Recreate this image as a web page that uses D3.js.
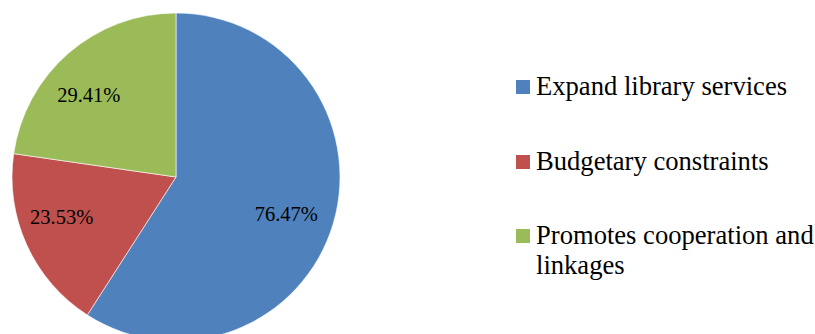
<!DOCTYPE html>
<html>
<head>
<meta charset="utf-8">
<script src="https://cdn.jsdelivr.net/npm/d3@7"></script>
<style>
  body { margin: 0; background: #fff; }
  text { font-family: "Liberation Serif", "Times New Roman", serif; fill: #000; }
</style>
</head>
<body>
<script>
// dimensions of the page
var w = 815, h = 334

// data
const categories = ["Expand library services", "Budgetary constraints", "Promotes cooperation and linkages"]
const values = [76.47, 23.53, 29.41]
const labels = ["76.47%", "23.53%", "29.41%"]
const colors = ["#4F81BD", "#C0504D", "#9BBB59"]

// pie centre and radius
var cx = 176, cy = 177, r = 164
// small shifts so the labels sit where the original put them
var nudge = [[-3, 4], [-7, -9], [-10, 7]]

var svg = d3.select("body").append("svg")
    .attr("width", w)
    .attr("height", h)

var pie = d3.pie().sort(null).value(function(d) { return d.value })
var arc = d3.arc().innerRadius(0).outerRadius(r)
var labelArc = d3.arc().innerRadius(118).outerRadius(118)

var data = categories.map(function(c, i) {
  return { name: c, value: values[i], label: labels[i], color: colors[i] }
})

var g = svg.append("g").attr("transform", "translate(" + cx + "," + cy + ")")

var slices = g.selectAll(".slice")
    .data(pie(data))
    .enter().append("g")
    .attr("class", "slice")

slices.append("path")
    .attr("d", arc)
    .style("fill", function(d) { return d.data.color })
    .style("stroke", "#fff")
    .style("stroke-width", 0.6)

slices.append("text")
    .attr("transform", function(d, i) {
      var c = labelArc.centroid(d)
      return "translate(" + (c[0] + nudge[i][0]) + "," + (c[1] + nudge[i][1]) + ")"
    })
    .attr("text-anchor", "middle")
    .attr("dy", "0.35em")
    .style("font-size", "20.5px")
    .text(function(d) { return d.data.label })

// legend
var legend = svg.append("g").attr("transform", "translate(516,0)")
var rowY = [95, 170, 244]

var items = legend.selectAll(".item")
    .data(data)
    .enter().append("g")
    .attr("class", "item")
    .attr("transform", function(d, i) { return "translate(0," + rowY[i] + ")" })

items.append("rect")
    .attr("x", 0)
    .attr("y", -15)
    .attr("width", 14)
    .attr("height", 14)
    .style("fill", function(d) { return d.color })

items.append("text")
    .attr("x", 20)
    .style("font-size", "26.6px")
    .each(function(d) {
      // wrap the long name on two lines like the original
      var t = d3.select(this)
      var parts = d.name === "Promotes cooperation and linkages"
        ? ["Promotes cooperation and", "linkages"] : [d.name]
      parts.forEach(function(p, k) {
        t.append("tspan").attr("x", 20).attr("dy", k === 0 ? 0 : 30).text(p)
      })
    })
</script>
</body>
</html>
